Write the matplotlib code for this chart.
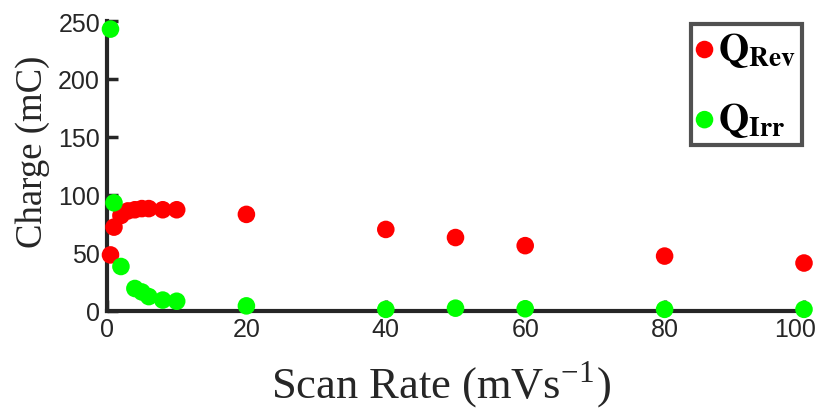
import matplotlib
matplotlib.use("Agg")
from matplotlib import pyplot as plt
from matplotlib.transforms import offset_copy

plt.rcParams['mathtext.fontset'] = 'stix'

# scan rate (mV/s) and charges (mC)
rate_rev = [0.5, 1, 2, 3, 4, 5, 6, 8, 10, 20, 40, 50, 60, 80, 100]
q_rev = [48, 72, 82, 86, 87, 88, 88, 87, 87, 83, 70, 63, 56, 47, 41]

rate_irr = [0.5, 1, 2, 4, 5, 6, 8, 10, 20, 40, 50, 60, 80, 100]
q_irr = [243, 93, 38, 19, 16, 12, 9, 8, 4, 1, 2, 1.5, 1, 1]

xticks = [0, 20, 40, 60, 80, 100]
yticks = [0, 50, 100, 150, 200, 250]

fig = plt.figure(figsize=(8.25, 4.14), dpi=100)
ax = fig.add_axes([107/825, 1 - 311.5/414, 697/825, 289.5/414])

ax.scatter(rate_rev, q_rev, s=160, color='#ff0000', edgecolors='none',
           label=r'$\mathbf{Q_{Rev}}$', clip_on=False, zorder=3)
ax.scatter(rate_irr, q_irr, s=160, color='#00ff00', edgecolors='none',
           label=r'$\mathbf{Q_{Irr}}$', clip_on=False, zorder=3)

ax.set_xlim(0, 100)
ax.set_ylim(0, 250)
ax.set_xticks(xticks)
ax.set_yticks(yticks)
for side in ['top', 'right']:
    ax.spines[side].set_visible(False)
for side in ['left', 'bottom']:
    ax.spines[side].set_linewidth(3)
    ax.spines[side].set_color('#262626')
ax.tick_params(direction='in', length=8, width=2.5, color='#262626',
               labelsize=18, labelcolor='#262626', pad=5)
for lab in ax.get_xticklabels() + ax.get_yticklabels():
    lab.set_family('Liberation Sans')
# last x label sits a bit left so it stays inside the figure
last = ax.get_xticklabels()[-1]
last.set_transform(offset_copy(last.get_transform(), fig, x=-9, units='dots'))

ax.set_xlabel('Scan Rate (mVs$^{\\mathregular{-1}}$)', family='Liberation Serif',
              fontsize=32, color='#262626', labelpad=12, x=0.479)
ax.set_ylabel('Charge (mC)', family='Liberation Serif', fontsize=26.5,
              color='#262626')
ax.yaxis.set_label_coords(-0.082, 0.55)

leg = ax.legend(loc='upper right', bbox_to_anchor=(0.997, 0.99), fontsize=28,
                handletextpad=0.15, handlelength=0.4, borderpad=0.15,
                labelspacing=0.8, fancybox=False, markerscale=1.0,
                borderaxespad=0.0)
leg.get_frame().set_edgecolor('#262626')
leg.get_frame().set_linewidth(3)

fig.savefig('out.png', dpi=100)
